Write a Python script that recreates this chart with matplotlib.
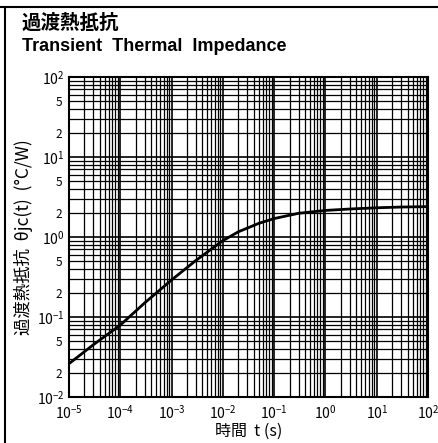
import matplotlib.pyplot as plt
from matplotlib.lines import Line2D
from matplotlib.ticker import LogLocator, FuncFormatter, NullFormatter
import numpy as np

plt.rcParams['font.family'] = ['Noto Sans CJK JP', 'DejaVu Sans']
plt.rcParams['mathtext.default'] = 'regular'

# transient thermal impedance
time_s = [1e-5, 3e-5, 1e-4, 3e-4, 1e-3, 3e-3, 1e-2, 2e-2, 5e-2,
          1e-1, 3e-1, 1e0, 3e0, 1e1, 3e1, 1e2]
zth = [0.026, 0.045, 0.079, 0.15, 0.29, 0.51, 0.90, 1.16, 1.48,
       1.70, 1.98, 2.15, 2.24, 2.32, 2.37, 2.40]

x_ticks = [1e-5, 1e-4, 1e-3, 1e-2, 1e-1, 1e0, 1e1, 1e2]
x_labels = ['$10^{-5}$', '$10^{-4}$', '$10^{-3}$', '$10^{-2}$',
            '$10^{-1}$', '$10^{0}$', '$10^{1}$', '$10^{2}$']
y_ticks = [1e-2, 1e-1, 1e0, 1e1, 1e2]
y_labels = ['$10^{-2}$', '$10^{-1}$', '$10^{0}$', '$10^{1}$', '$10^{2}$']

fig = plt.figure(figsize=(4.39, 4.43), dpi=100)
ax = fig.add_axes([0.157, 0.104, 0.818, 0.722])

ax.loglog(time_s, zth, color='black', lw=2)
ax.set_xlim(1e-5, 1e2)
ax.set_ylim(1e-2, 1e2)

ax.set_xticks(x_ticks)
ax.set_xticklabels(x_labels)
ax.set_yticks(y_ticks)
ax.set_yticklabels(y_labels)

ax.xaxis.set_minor_locator(LogLocator(base=10, subs=np.arange(2, 10)))
ax.xaxis.set_minor_formatter(NullFormatter())
ax.yaxis.set_minor_locator(LogLocator(base=10, subs=np.arange(2, 10)))


def minor_lab(v, pos):
    m = v / 10 ** np.floor(np.log10(v) + 1e-9)
    if abs(m - 2) < 0.01:
        return '2'
    if abs(m - 5) < 0.01:
        return '5'
    return ''


ax.yaxis.set_minor_formatter(FuncFormatter(minor_lab))

ax.tick_params(which='both', length=0, labelsize=10, colors='black')
ax.tick_params(axis='y', which='minor', labelsize=8.5, pad=5)
ax.tick_params(axis='y', which='major', pad=3)
ax.tick_params(axis='x', which='major', pad=5)

ax.grid(which='major', color='black', lw=1.2)
ax.grid(which='minor', color='black', lw=0.9)
for s in ax.spines.values():
    s.set_linewidth(1.5)

ax.set_xlabel('時間  t (s)', fontsize=11.5, labelpad=1)
ax.set_ylabel('過渡熱抵抗  θjc(t)  (°C/W)', fontsize=12.5, labelpad=3)

fig.text(0.05, 0.948, '過渡熱抵抗', fontsize=14, weight='bold', va='center')
fig.text(0.05, 0.894, 'Transient  Thermal  Impedance', fontsize=13,
         family='Liberation Sans', weight='bold', va='center')

# scan border lines
fig.add_artist(Line2D([0, 1], [0.984, 0.984], color='black', lw=1.5))
fig.add_artist(Line2D([0.012, 0.012], [0, 0.984], color='black', lw=1.5))

fig.savefig('out.png', dpi=100)
